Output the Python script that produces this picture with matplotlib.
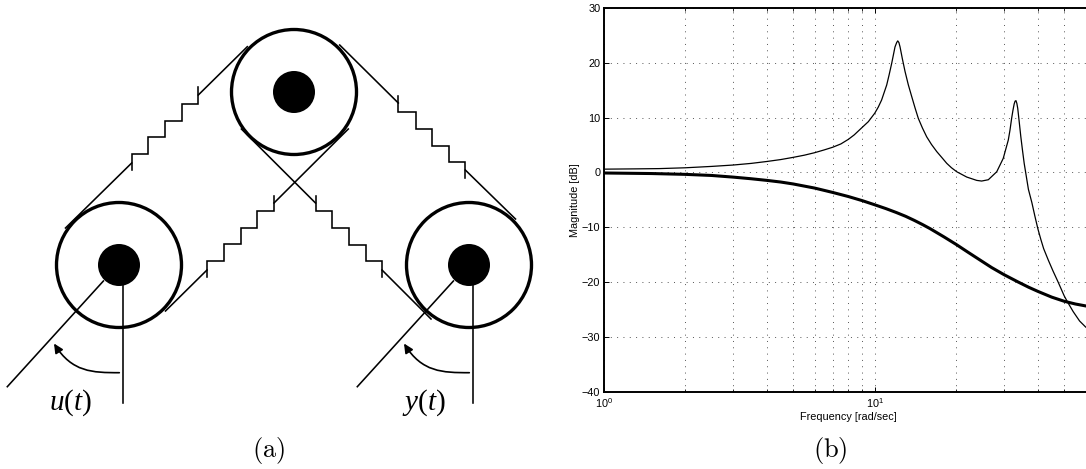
import matplotlib
matplotlib.use('Agg')
import matplotlib.pyplot as plt
import numpy as np
from matplotlib.patches import Circle, FancyArrowPatch
from matplotlib.path import Path

plt.rcParams['font.family'] = ['Liberation Sans', 'DejaVu Sans']
plt.rcParams['mathtext.fontset'] = 'custom'
plt.rcParams['mathtext.rm'] = 'Liberation Serif'
plt.rcParams['mathtext.it'] = 'Liberation Serif:italic'

W, H = 1086, 469

# bode magnitude curves
freq_thin = [1, 1.3, 1.6, 2, 2.5, 3, 3.5, 4, 4.5, 5, 5.5, 6, 6.5, 7, 7.5, 8, 8.4, 8.83, 9.47, 10, 10.3, 10.6,
             11.07, 11.3, 11.55, 11.88, 12.05, 12.16, 12.28, 12.4, 12.65, 12.94, 13.3, 13.7, 14.1, 14.48,
             15, 15.55, 16.2, 16.94, 17.7, 18.44, 19.2, 20.07, 21.85, 23.79, 24.8, 26.25, 28.2, 29.8,
             31.1, 31.55, 32, 32.35, 32.7, 32.95, 33.2, 33.45, 33.7, 34.1, 34.6, 35.1, 35.6, 36.9, 38, 39,
             40, 41, 42, 43.7, 45.5, 47.5, 50, 51.4, 54, 57, 60, 63]
db_thin = [0.6, 0.65, 0.7, 0.85, 1.1, 1.35, 1.65, 2.0, 2.35, 2.75, 3.15, 3.6, 4.1, 4.6, 5.2, 6.05, 6.85, 7.86,
           9.26, 10.8, 11.9, 13.2, 15.95, 17.8, 19.9, 22.9, 23.7, 24.0, 23.7, 22.9, 20.7, 18.4, 16.0,
           13.8, 11.7, 9.87, 8.1, 6.5, 5.1, 3.8, 2.7, 1.66, 0.85, 0.13, -0.84, -1.45, -1.57, -1.33,
           0.13, 2.57, 5.9, 7.7, 9.87, 11.3, 12.5, 13.0, 13.1, 12.6, 11.7, 9.4, 6.5, 4.0, 1.66, -3.08,
           -5.5, -8.0, -10.3, -12.2, -13.9, -16.0, -18.0, -20.0, -22.5, -23.6, -25.4, -27.1, -28.2, -28.9]
freq_thick = [1, 1.5, 2, 2.5, 3, 3.5, 4, 4.5, 5, 6, 7, 8, 9, 10, 11, 12, 13, 14, 15, 16, 18, 20,
              22, 24.5, 27, 30, 33.7, 37, 40, 45, 50, 55, 60, 63]
db_thick = [-0.1, -0.2, -0.35, -0.55, -0.85, -1.15, -1.45, -1.75, -2.1, -2.85, -3.65, -4.4, -5.15,
            -5.9, -6.6, -7.3, -8.0, -8.75, -9.5, -10.25, -11.75, -13.15, -14.5, -16.0, -17.35,
            -18.65, -19.95, -20.95, -21.7, -22.75, -23.5, -24.0, -24.35, -24.5]

y_ticks = [-40, -30, -20, -10, 0, 10, 20, 30]
x_label = 'Frequency [rad/sec]'
y_label = 'Magnitude [dB]'

# sketch of the three pulleys, in picture pixels
pulley_x = [294, 119, 469]
pulley_y = [92, 265, 265]
pulley_r = 62.5
hub_r = 21

belts = [
    [(247.3, 46.7), (198.3, 95)],
    [(198.3, 87.3), (198.3, 104), (181.7, 104), (181.7, 120.7), (165, 120.7), (165, 137.3),
     (148.3, 137.3), (148.3, 154), (131.7, 154), (131.7, 170)],
    [(131.7, 163), (65.5, 228)],
    [(339.7, 45), (398.3, 103)],
    [(398.3, 95.7), (398.3, 112.3), (415.5, 112.3), (415.5, 129), (432, 129), (432, 145.6),
     (448.6, 145.6), (448.6, 162), (465.3, 162), (465.3, 178)],
    [(465.3, 170), (515.5, 219)],
    [(348.3, 129), (274, 203)],
    [(274, 196), (274, 211), (257, 211), (257, 228), (240.5, 228), (240.5, 244.5), (224, 244.5),
     (224, 261), (207, 261), (207, 277)],
    [(207, 270), (165.5, 311)],
    [(241.4, 129), (315.5, 203)],
    [(315.5, 196), (315.5, 211), (332, 211), (332, 228), (348.7, 228), (348.7, 245), (365.5, 245),
     (365.5, 261), (382, 261), (382, 277)],
    [(382, 270), (431, 319)],
]
shafts = [
    [(7.3, 386.7), (103.4, 281)],
    [(123.3, 285), (123.3, 403)],
    [(357.3, 386.7), (453.4, 281)],
    [(473.3, 285), (473.3, 403)],
]
arrow_offsets = [0, 350]

fig = plt.figure(figsize=(W / 100, H / 100), dpi=100)

sk = fig.add_axes([0, 0, 1, 1])
sk.set_xlim(0, W)
sk.set_ylim(H, 0)
sk.axis('off')

for cx, cy in zip(pulley_x, pulley_y):
    sk.add_patch(Circle((cx, cy), pulley_r, fill=False, ec='black', lw=2.4))
    sk.add_patch(Circle((cx, cy), hub_r, fc='black', ec='none'))
for pts in belts + shafts:
    xs = [p[0] for p in pts]
    ys = [p[1] for p in pts]
    sk.plot(xs, ys, color='black', lw=1.15, solid_joinstyle='miter')
for dx in arrow_offsets:
    curve = Path([(119.3 + dx, 372.7), (92 + dx, 372.7), (72 + dx, 372), (54 + dx, 343.5)],
                 [Path.MOVETO, Path.CURVE4, Path.CURVE4, Path.CURVE4])
    sk.add_patch(FancyArrowPatch(path=curve, arrowstyle='-|>,head_length=5,head_width=2.4',
                                 color='black', lw=1.2, shrinkA=0, shrinkB=0, mutation_scale=1.1))

sk.text(70, 403, r'$u\mathrm{(}t\mathrm{)}$', fontsize=21, ha='center', va='center', math_fontfamily='custom')
sk.text(424, 403, r'$y\mathrm{(}t\mathrm{)}$', fontsize=21, ha='center', va='center', math_fontfamily='custom')
sk.text(269, 451, r'$\mathrm{(a)}$', fontsize=19, ha='center', va='center', math_fontfamily='cm')
sk.text(830, 451, r'$\mathrm{(b)}$', fontsize=19, ha='center', va='center', math_fontfamily='cm')

left, right, top, bottom = 603.7, 1092.3, 8, 391.7
ax = fig.add_axes([left / W, 1 - bottom / H, (right - left) / W, (bottom - top) / H])
ax.semilogx(freq_thin, db_thin, color='black', lw=0.9)
ax.semilogx(freq_thick, db_thick, color='black', lw=2.2)
ax.set_xlim(1, 63.5)
ax.set_ylim(-40, 30)
ax.set_yticks(y_ticks)
ax.grid(True, which='major', color='#555555', lw=0.7, linestyle=(0, (1, 5.5)))
ax.grid(True, which='minor', axis='x', color='#555555', lw=0.7, linestyle=(0, (1, 5.5)))
ax.tick_params(which='major', direction='in', length=3.8, width=0.7, top=True, right=True, labelsize=7.8, pad=2.5)
ax.tick_params(which='minor', direction='in', length=2.5, width=0.6, top=True)
ax.tick_params(axis='x', which='major', pad=3.5)
ax.set_xlabel(x_label, fontsize=7.8, labelpad=1.5)
ax.set_ylabel(y_label, fontsize=7.8, labelpad=1)
for s in ax.spines.values():
    s.set_linewidth(1.4)

fig.savefig('out.png', dpi=100)
